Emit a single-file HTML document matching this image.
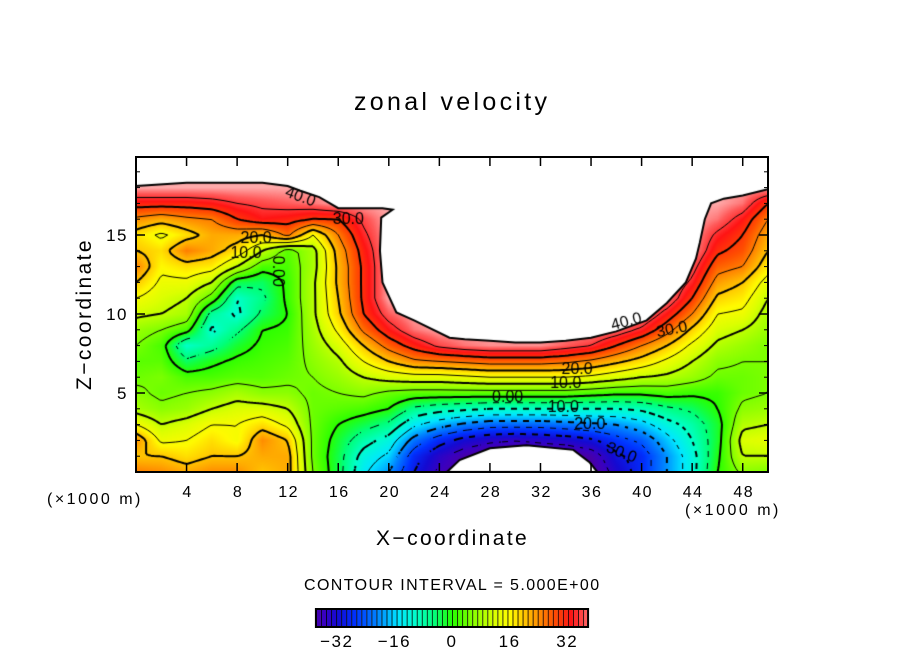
<!DOCTYPE html>
<html><head><meta charset="utf-8"><style>
html,body{margin:0;padding:0;background:#fff;}
#root{position:relative;width:904px;height:654px;overflow:hidden;font-family:"Liberation Sans",sans-serif;color:#000;}
.t{position:absolute;white-space:nowrap;}
</style></head><body>
<div id="root">
<div class="t" style="left:354px;top:88px;font-size:25px;letter-spacing:3.3px;">zonal velocity</div>
<canvas id="plot" width="632" height="315" style="position:absolute;left:136px;top:157px;"></canvas>
<svg id="ov" width="904" height="654" style="position:absolute;left:0;top:0;"></svg>
<div class="t" style="left:3px;top:302px;font-size:21px;letter-spacing:2.4px;transform:rotate(-90deg);transform-origin:82px 12px;width:164px;text-align:center;">Z−coordinate</div>
<div class="t" style="left:376px;top:527px;font-size:21px;letter-spacing:2.4px;">X−coordinate</div>
<div class="t" style="left:47px;top:491px;font-size:16px;letter-spacing:2.5px;">(×1000 m)</div>
<div class="t" style="left:685px;top:502px;font-size:16px;letter-spacing:2.5px;">(×1000 m)</div>
<div class="t" style="left:304px;top:577px;font-size:16px;letter-spacing:1.4px;">CONTOUR INTERVAL = 5.000E+00</div>
</div>
<script>
// ---- data ----
const xs=[0,2,4,6,8,10,12,14,16,18,20,22,24,26,28,30,32,34,36,38,40,42,44,46,48,50];
const zs=[0,1,2,3,4,5,6,7,8,9,10,11,12,13,14,15,16,17,18];
const uCol0=[25,20,24,15,8,6,4,3,5,7,11,15,20,25,20,18,24,32,40];
const uCol2=[24,20,14,10,6,4,5,3,2,5,10,12,14,16,18,14,22,32,40];
const uCol4=[22,18,15,12,7,5,2,-4,-10,2,8,10,14,18,25,18,24,32,40];
const uCol6=[24,20,18,15,10,6,2,-1,-7,-11,-7,3,10,17,22,22,25,33,40];
const uCol8=[24,20,15,15,12,8,3,1,-2,-6,-11,-10,-3,10,18,22,30,35,40];
const uCol10=[20,22,24,18,12,6,3,2,1,0,-4,-6,-4,2,10,20,33,36,40];
const uCol12=[22,22,20,14,10,6,4,3,2,1,0,1,1,2,3,26,32,37,40];
const uCol14=[5,4,4,4,4,4,5,6,7,8,9,9,9,8,8,15,30,38,40];
const uCol16=[-3,-3,-2,0,3,5,7,9,12,16,19,20,21,21,22,25,30,40,40];
const uCol18=[-14,-12,-8,-3,2,6,10,15,20,26,30,31,31,31,32,34,36,40,40];
const uCol20=[-20,-16,-12,-6,0,4,12,20,27,33,37,40,40,40,40,40,40,40,40];
const uCol22=[-30,-28,-22,-14,-6,3,13,24,32,38,40,40,40,40,40,40,40,40,40];
const uCol24=[-36,-34,-28,-18,-8,3,13,25,36,40,40,40,40,40,40,40,40,40,40];
const uCol26=[-40,-38,-32,-21,-9,3,14,26,38,40,40,40,40,40,40,40,40,40,40];
const uCol28=[-40,-40,-34,-23,-10,3,15,27,39,40,40,40,40,40,40,40,40,40,40];
const uCol30=[-40,-40,-35,-23,-10,3,15,27,39,40,40,40,40,40,40,40,40,40,40];
const uCol32=[-40,-40,-34,-23,-10,3,15,27,39,40,40,40,40,40,40,40,40,40,40];
const uCol34=[-40,-40,-33,-22,-10,3,15,26,37,40,40,40,40,40,40,40,40,40,40];
const uCol36=[-40,-38,-31,-21,-10,2,14,24,35,40,40,40,40,40,40,40,40,40,40];
const uCol38=[-33,-31,-27,-20,-10,1,12,21,30,38,40,40,40,40,40,40,40,40,40];
const uCol40=[-28,-28,-24,-17,-9,1,10,18,25,34,40,40,40,40,40,40,40,40,40];
const uCol42=[-20,-20,-17,-12,-6,2,9,14,20,27,33,39,40,40,40,40,40,40,40];
const uCol44=[-12,-12,-10,-8,-4,1,7,10,14,19,25,30,34,37,40,40,40,40,40];
const uCol46=[0,-1,-2,-2,0,1,4,6,9,12,15,19,23,27,31,34,38,40,40];
const uCol48=[6,10,12,9,6,4,4,5,7,10,14,17,20,25,28,30,33,38,40];
const uCol50=[5,10,13,10,7,5,5,5,5,7,8,10,13,17,20,22,25,30,40];
const U=[uCol0,uCol2,uCol4,uCol6,uCol8,uCol10,uCol12,uCol14,uCol16,uCol18,uCol20,uCol22,uCol24,uCol26,uCol28,uCol30,uCol32,uCol34,uCol36,uCol38,uCol40,uCol42,uCol44,uCol46,uCol48,uCol50];
const topEdgeX=[0,4,10,12,13,14.5,16,19.5,20.3,19.4,19.3,19.5,20.6,22,24.8,26,28,30,32,34,36,38,40.4,42,43.5,44.3,44.6,45,45.5,46.5,48,50];
const topEdgeZ=[18.1,18.3,18.3,18.1,17.8,17.4,16.7,16.7,16.6,16.1,14,12,10.1,9.6,8.5,8.4,8.3,8.2,8.2,8.3,8.5,8.9,9.6,10.7,12,13.5,14.5,16,17,17.3,17.5,17.9];
const holeX=[24.6,25.6,28,30.9,34.6,35.9,36.5];
const holeZ=[0,0.76,1.5,1.7,1.4,0.6,0];
const contourLevels=[-35,-30,-25,-20,-15,-10,-5,0,5,10,15,20,25,30,35];
const labelText=["40.0","30.0","20.0","10.0","0.00","40.0","30.0","20.0","10.0","0.00","10.0","20.0","30.0"];
const labelX=[13,16.8,9.5,8.7,11.2,38.8,42.4,34.9,34,29.4,33.8,35.9,38.4];
const labelZ=[17.4,16,14.8,13.8,12.7,9.5,9,6.5,5.6,4.7,4.05,3.0,1.2];
const labelRot=[20,0,0,0,90,-15,-12,0,0,0,0,0,22];
const xTicks=[4,8,12,16,20,24,28,32,36,40,44,48];
const zTicks=[5,10,15];
const cbTicks=[-32,-16,0,16,32];

// ---- axes ----
const PX0=136,PX1=768,PY0=157,PY1=472,XMAX=50,ZMAX=(PY1-PY0)/15.8;
const sx=x=>PX0+x/XMAX*(PX1-PX0);
const sz=z=>PY1-z/ZMAX*(PY1-PY0);
const CBX=452,CBS=3.6,CBY=609,CBH=18,CBMAX=37.8;
const cbx=v=>CBX+v*CBS;

const stops=[[-40,[80,0,150]],[-36,[60,0,190]],[-32,[20,10,210]],[-27,[0,50,255]],[-21,[0,130,255]],[-15,[0,230,255]],[-10,[0,255,200]],[-5,[0,255,120]],[0,[40,255,0]],[6,[140,255,0]],[12,[220,255,0]],[16,[255,250,0]],[22,[255,170,0]],[28,[255,80,0]],[33,[255,20,20]],[37,[255,90,90]],[40,[255,170,170]]];
function cmap(v){
  if(v<=stops[0][0])return stops[0][1];
  for(let i=1;i<stops.length;i++){if(v<=stops[i][0]){const a=stops[i-1],b=stops[i],t=(v-a[0])/(b[0]-a[0]);return [0,1,2].map(k=>Math.round(a[1][k]+(b[1][k]-a[1][k])*t));}}
  return stops[stops.length-1][1];
}
function val(x,z){
  let fi=x/2,fj=z; fi=Math.max(0,Math.min(xs.length-1.0001,fi)); fj=Math.max(0,Math.min(zs.length-1.0001,fj));
  const i=Math.floor(fi),j=Math.floor(fj),tx=fi-i,tz=fj-j;
  const a=U[i][j],b=U[i+1][j],c=U[i][j+1],d=U[i+1][j+1];
  return a*(1-tx)*(1-tz)+b*tx*(1-tz)+c*(1-tx)*tz+d*tx*tz;
}
const W=632,H=315;
const cv=document.getElementById('plot'),ctx=cv.getContext('2d');
const img=ctx.createImageData(W,H);
for(let py=0;py<H;py++)for(let px=0;px<W;px++){
  const x=(px+0.5)/W*XMAX,z=(H-py-0.5)/H*ZMAX;const c=cmap(val(x,z));const o=(py*W+px)*4;
  img.data[o]=c[0];img.data[o+1]=c[1];img.data[o+2]=c[2];img.data[o+3]=255;}
ctx.putImageData(img,0,0);
const S=3,NX=Math.ceil(W/S)+1,NY=Math.ceil(H/S)+1;
const F=[];for(let j=0;j<NY;j++){F.push([]);for(let i=0;i<NX;i++)F[j].push(val(Math.min(W,i*S)/W*XMAX,(H-Math.min(H,j*S))/H*ZMAX));}
contourLevels.forEach(L=>{
  ctx.beginPath();
  for(let j=0;j<NY-1;j++)for(let i=0;i<NX-1;i++){
    if(L<0&&((i+j)>>1)%2===1)continue;
    const v=[F[j][i],F[j][i+1],F[j+1][i+1],F[j+1][i]];
    const p=[[i*S,j*S],[(i+1)*S,j*S],[(i+1)*S,(j+1)*S],[i*S,(j+1)*S]];
    const pts=[];
    for(let k=0;k<4;k++){const a=v[k],b=v[(k+1)%4];if((a<L)!==(b<L)){const t=(L-a)/(b-a);pts.push([p[k][0]+(p[(k+1)%4][0]-p[k][0])*t,p[k][1]+(p[(k+1)%4][1]-p[k][1])*t]);}}
    if(pts.length>=2){ctx.moveTo(pts[0][0],pts[0][1]);ctx.lineTo(pts[1][0],pts[1][1]);}
    if(pts.length===4){ctx.moveTo(pts[2][0],pts[2][1]);ctx.lineTo(pts[3][0],pts[3][1]);}
  }
  ctx.lineWidth=(L%10===0)?2:1;ctx.strokeStyle='#000';ctx.stroke();
});
// masks
ctx.beginPath();ctx.moveTo(-2,-2);ctx.lineTo(-2,sz(topEdgeZ[0])-PY0);
topEdgeX.forEach((x,k)=>ctx.lineTo(sx(x)-PX0,sz(topEdgeZ[k])-PY0));
ctx.lineTo(W+2,sz(topEdgeZ[topEdgeZ.length-1])-PY0);ctx.lineTo(W+2,-2);ctx.closePath();ctx.fillStyle='#fff';ctx.fill();
ctx.beginPath();topEdgeX.forEach((x,k)=>{const X=sx(x)-PX0,Y=sz(topEdgeZ[k])-PY0;k?ctx.lineTo(X,Y):ctx.moveTo(X,Y);});ctx.lineWidth=2;ctx.stroke();
ctx.beginPath();holeX.forEach((x,k)=>{const X=sx(x)-PX0,Y=sz(holeZ[k])-PY0;k?ctx.lineTo(X,Y):ctx.moveTo(X,Y);});ctx.closePath();ctx.fill();ctx.stroke();
// contour labels
ctx.fillStyle='#000';ctx.font='16px "Liberation Sans", sans-serif';ctx.textAlign='center';ctx.textBaseline='middle';
labelText.forEach((t,k)=>{ctx.save();ctx.translate(sx(labelX[k])-PX0,sz(labelZ[k])-PY0);ctx.rotate(labelRot[k]*Math.PI/180);ctx.fillText(t,0,0);ctx.restore();});

// ---- SVG overlay ----
const NS='http://www.w3.org/2000/svg',svg=document.getElementById('ov');
function mk(tag,attrs,parent){const e=document.createElementNS(NS,tag);for(const k in attrs)e.setAttribute(k,attrs[k]);(parent||svg).appendChild(e);return e;}
const frame=mk('rect',{x:PX0,y:PY0,width:PX1-PX0,height:PY1-PY0,fill:'none',stroke:'#000','stroke-width':2});


const TF='font-family:"Liberation Sans",sans-serif;letter-spacing:1.5px;';
xTicks.forEach(t=>{
  const g=mk('g',{});
  
  
  mk('line',{x1:sx(t),x2:sx(t),y1:PY1,y2:PY1-9,stroke:'#000','stroke-width':1.5},g);
  mk('line',{x1:sx(t),x2:sx(t),y1:PY0,y2:PY0+9,stroke:'#000','stroke-width':1.5},g);
  const tx=mk('text',{x:sx(t)+1,y:497,'text-anchor':'middle','font-size':16,style:TF},g);tx.textContent=t;
});
zTicks.forEach(t=>{
  const g=mk('g',{});
  
  
  mk('line',{x1:PX0,x2:PX0+9,y1:sz(t),y2:sz(t),stroke:'#000','stroke-width':1.5},g);
  mk('line',{x1:PX1,x2:PX1-9,y1:sz(t),y2:sz(t),stroke:'#000','stroke-width':1.5},g);
  const tx=mk('text',{x:128,y:sz(t)+6,'text-anchor':'end','font-size':17,style:TF},g);tx.textContent=t;
});
for(let t=1;t<20;t++){if(t%5===0)continue;
  mk('line',{x1:PX0,x2:PX0+4,y1:sz(t),y2:sz(t),stroke:'#000','stroke-width':1});
  mk('line',{x1:PX1,x2:PX1-4,y1:sz(t),y2:sz(t),stroke:'#000','stroke-width':1});}
const cb=mk('g',{});


const BW=1.4;
for(let v=-CBMAX;v<CBMAX-0.01;v+=BW){
  const w=Math.min(BW,CBMAX-v);
  const c=cmap(v+w/2);
  mk('rect',{x:cbx(v),y:CBY,width:w*CBS,height:CBH,fill:'rgb('+c.join(',')+')'},cb);
  mk('line',{x1:cbx(v)+0.5,x2:cbx(v)+0.5,y1:CBY,y2:CBY+CBH,stroke:'#000','stroke-width':1,'stroke-opacity':0.8},cb);
}
mk('rect',{x:cbx(-CBMAX),y:CBY,width:cbx(CBMAX)-cbx(-CBMAX),height:CBH,fill:'none',stroke:'#000','stroke-width':2},cb);
cbTicks.forEach(t=>{const tx=mk('text',{x:cbx(t),y:647,'text-anchor':'middle','font-size':17,style:TF},cb);tx.textContent=(t<0?'−'+(-t):t);});
</script>
</body></html>
